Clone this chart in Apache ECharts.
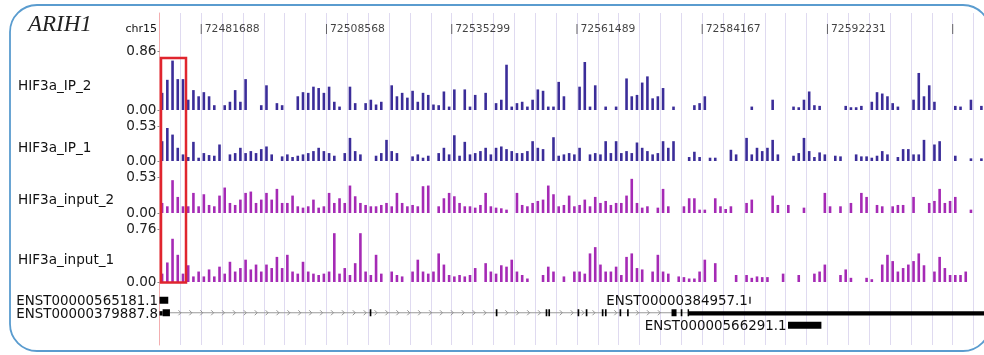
<!DOCTYPE html>
<html><head><meta charset="utf-8">
<script src="https://cdn.jsdelivr.net/npm/echarts@6/dist/echarts.min.js"></script>
<style>html,body{margin:0;padding:0;background:#fff}#c{width:984px;height:355px}</style>
</head><body><div id="c"></div>
<script>
// ---------------- data ----------------
const geneTitle = 'ARIH1';
const chromName = 'chr15';
const rulerTickPos = [2, 8, 14, 20, 26, 32, 38];
const rulerTickLabels = ['72481688', '72508568', '72535299', '72561489', '72584167', '72592231', ''];

const trackNames = ['HIF3a_IP_2', 'HIF3a_IP_1', 'HIF3a_input_2', 'HIF3a_input_1'];
const trackMax = [0.86, 0.53, 0.53, 0.76];

const ip2 = [
0.25,0.44,0.72,0.45,0.45,0.15,0.29,0.2,0.26,0.2,
0.07,0,0.07,0.12,0.29,0.12,0.45,0,0,0.07,
0.36,0,0.1,0.07,0,0,0.2,0.26,0.25,0.34,
0.32,0.25,0.34,0.12,0.05,0,0.34,0.1,0,0.1,
0.15,0.08,0.12,0,0.36,0.2,0.25,0.18,0.28,0.12,
0.25,0.22,0.08,0.07,0.27,0.05,0.3,0,0.3,0.05,
0.22,0,0.25,0,0.1,0.15,0.66,0.05,0.1,0.12,
0.05,0.15,0.3,0.28,0.05,0.05,0.41,0.2,0,0,
0.34,0.7,0.05,0.36,0,0.05,0,0.05,0,0.46,
0.2,0.22,0.4,0.49,0.17,0.2,0.32,0,0.05,0,
0,0,0.07,0.1,0.2,0,0,0,0,0,
0,0,0,0.05,0,0,0,0.15,0,0,
0,0.05,0.04,0.15,0.27,0.07,0.06,0,0,0,
0,0.06,0.04,0.04,0.06,0,0.12,0.26,0.24,0.2,
0.1,0.05,0,0,0.15,0.54,0.2,0.36,0.12,0,
0,0,0.06,0.05,0,0.15,0,0.06];

const ip1 = [
0.3,0.5,0.4,0.2,0.1,0.06,0.29,0.05,0.12,0.09,
0.08,0.25,0,0.1,0.12,0.2,0.12,0.15,0.12,0.18,
0.22,0.1,0,0.07,0.1,0.06,0.08,0.1,0.12,0.15,
0.2,0.15,0.12,0.08,0,0.12,0.35,0.15,0.1,0,
0,0.08,0.12,0.32,0.15,0.12,0,0,0.07,0.1,
0.05,0.08,0,0.12,0.2,0.1,0.39,0.08,0.29,0.1,
0.12,0.15,0.2,0.1,0.2,0.22,0.18,0.15,0.12,0.12,
0.15,0.3,0.2,0.18,0,0.36,0.08,0.1,0.12,0.1,
0.2,0,0.1,0.12,0.1,0.3,0.12,0.3,0.12,0.15,
0.12,0.28,0.2,0.15,0.1,0.12,0.3,0.2,0.3,0,
0,0.06,0.14,0.06,0,0.05,0.05,0,0,0.17,
0.1,0,0.35,0.1,0.2,0.15,0.2,0.32,0.1,0,
0,0.08,0.12,0.35,0.15,0.06,0.13,0.1,0,0.08,
0.07,0,0,0.1,0.07,0.07,0.05,0.08,0.15,0.1,
0,0.06,0.18,0.18,0.1,0.1,0.32,0,0.25,0.3,
0,0,0.08,0,0,0.04,0,0.04];

const input2 = [
0.15,0.1,0.49,0.24,0.1,0.1,0.3,0.1,0.28,0.12,
0.1,0.26,0.38,0.15,0.12,0.2,0.3,0.32,0.15,0.2,
0.3,0.2,0.36,0.15,0.15,0.26,0.1,0.08,0.1,0.2,
0.08,0.1,0.3,0.15,0.22,0.15,0.41,0.25,0.15,0.12,
0.1,0.1,0.12,0.15,0.1,0.3,0.15,0.1,0.12,0.1,
0.4,0.41,0,0.1,0.22,0.3,0.25,0.15,0.1,0.1,
0.08,0.12,0.3,0.1,0.08,0.07,0.05,0,0.3,0.12,
0.1,0.15,0.18,0.2,0.41,0.28,0.1,0.12,0.26,0.1,
0.12,0.2,0.1,0.24,0.15,0.18,0.12,0.15,0.15,0.26,
0.51,0.15,0.08,0.1,0,0.08,0.36,0.1,0,0,
0.1,0.22,0.22,0.05,0.05,0,0.22,0.1,0.06,0.1,
0,0,0.15,0.2,0,0,0,0.26,0.12,0,
0.12,0,0,0.08,0,0,0,0.3,0.1,0,
0.1,0,0.15,0,0.3,0.24,0,0.12,0.1,0,
0.1,0.12,0.12,0,0.24,0,0,0.15,0.18,0.36,
0.15,0.18,0.24,0,0,0.05,0,0];

const input1 = [
0.12,0.28,0.62,0.39,0.12,0.24,0.08,0.15,0.08,0.18,
0.08,0.22,0.12,0.29,0.15,0.2,0.32,0.18,0.25,0.15,
0.25,0.2,0.36,0.2,0.39,0.15,0.12,0.29,0.15,0.12,
0.1,0.12,0.15,0.7,0.12,0.2,0.1,0.27,0.7,0.15,
0.1,0.39,0.12,0,0.15,0.1,0.08,0,0.15,0.32,
0.15,0.12,0.15,0.41,0.25,0.1,0.08,0.1,0.08,0.1,
0.2,0,0.27,0.15,0.12,0.24,0.22,0.32,0.15,0.1,
0.05,0,0,0.1,0.22,0.15,0,0.08,0,0.15,
0.15,0.12,0.41,0.5,0.25,0.15,0.15,0.22,0.1,0.36,
0.41,0.2,0.18,0,0.15,0.39,0.15,0.12,0,0.08,
0.07,0.05,0.05,0.15,0.32,0,0.27,0,0,0,
0.1,0,0.1,0.06,0.08,0.07,0.07,0,0,0.12,
0,0,0.1,0,0,0.12,0.15,0.25,0,0,
0.1,0.18,0.06,0,0,0.06,0.04,0,0.25,0.39,
0.3,0.15,0.2,0.25,0.3,0.41,0.24,0,0.15,0.36,
0.2,0.1,0.1,0.1,0.15,0,0,0];

const geneNames = ['ENST00000565181.1', 'ENST00000379887.8', 'ENST00000384957.1', 'ENST00000566291.1'];
const geneRows = [0, 1, 0, 2];
const geneIntrons = [null, [0.5, 25.33], null, null];
const geneExons = [
  [[0, 0.42]],
  [[0.15, 0.5], [10.07, 10.15], [16.11, 16.19], [18.5, 18.58], [18.63, 18.71], [20.03, 20.11],
   [20.42, 20.5], [21.19, 21.27], [21.34, 21.42], [22.04, 22.12], [22.4, 22.48],
   [24.53, 24.77], [24.97, 25.05], [25.3, 25.37]],
  [[28.26, 28.31]],
  [[30.11, 31.71]]
];
const geneUTRs = [[], [[0, 0.15], [25.33, 39.6]], [], []];

// ---------------- layout / style ----------------
const VIEW_UNITS = 39.5;
const BINS_PER_UNIT = 4;
const CHEVRON_STEP = 0.522;
const PLOT_LEFT = 159.5, PLOT_WIDTH = 824.8;
const FONT = '"DejaVu Sans", sans-serif';
const trackTops = [51, 126, 177.5, 229];
const trackHeights = [59, 35, 35.5, 53];
const trackLabelY = [86.5, 148, 200, 260];
const trackColors = ['#3b2d99', '#3b2d99', '#a52ab5', '#a52ab5'];
const trackData = [ip2, ip1, input2, input1];

const chart = echarts.init(document.getElementById('c'));

const grids = [
  { left: PLOT_LEFT, width: PLOT_WIDTH, top: 13, height: 332 },   // background grid lines
  { left: PLOT_LEFT, width: PLOT_WIDTH, top: 23, height: 12 }     // ruler
];
trackTops.forEach((t, i) => grids.push({ left: PLOT_LEFT, width: PLOT_WIDTH, top: t, height: trackHeights[i] }));
grids.push({ left: PLOT_LEFT, width: PLOT_WIDTH, top: 294, height: 37.5 }); // genes

const xAxes = grids.map((g, i) => ({
  type: 'value', gridIndex: i, min: 0, max: VIEW_UNITS,
  interval: 1,
  axisLine: { show: false }, axisTick: { show: false }, axisLabel: { show: false },
  splitLine: { show: i === 0, lineStyle: { color: '#dfdaf0', width: 1 } }
}));

const yAxes = [
  { type: 'value', gridIndex: 0, min: 0, max: 1,
    axisLine: { show: true, onZero: false, lineStyle: { color: '#f3aeb0', width: 1 } },
    axisTick: { show: false }, axisLabel: { show: false }, splitLine: { show: false } },
  { type: 'value', gridIndex: 1, min: 0, max: 1, show: false }
];
trackMax.forEach((m, i) => yAxes.push({
  type: 'value', gridIndex: 2 + i, min: 0, max: m, interval: m,
  axisLine: { show: false },
  axisTick: { show: true, length: 2, lineStyle: { color: '#888' } },
  axisLabel: { show: true, margin: 3, fontSize: 13.6, fontFamily: FONT, color: '#222',
               formatter: v => v.toFixed(2) },
  splitLine: { show: false }
}));
yAxes.push({ type: 'value', gridIndex: 6, min: 0, max: 3, inverse: true, show: false });

const series = [];
series.push({
  type: 'scatter', xAxisIndex: 1, yAxisIndex: 1, silent: true,
  symbol: 'rect', symbolSize: [1, 10],
  itemStyle: { color: '#444' },
  data: rulerTickPos.map((p, i) => ({ value: [p, 0.5], name: rulerTickLabels[i] })),
  label: { show: true, position: 'right', distance: 3, formatter: p => p.name,
           fontSize: 10.8, fontFamily: FONT, color: '#111' }
});
trackData.forEach((arr, k) => {
  series.push({
    type: 'bar', xAxisIndex: 2 + k, yAxisIndex: 2 + k, silent: true,
    barWidth: 2.6,
    itemStyle: { color: trackColors[k] },
    data: arr.map((v, i) => [(i + 0.5) / BINS_PER_UNIT, v])
  });
});

function insideExon(k, u) {
  return geneExons[k].some(e => u > e[0] - 0.12 && u < e[1] + 0.12);
}
series.push({
  type: 'custom', xAxisIndex: 6, yAxisIndex: 6, silent: true, clip: false,
  data: geneNames.map((n, i) => [i, geneRows[i]]),
  renderItem: function (params, api) {
    const k = api.value(0);
    const row = geneRows[k];
    const yc = api.coord([0, row + 0.5])[1];
    const px = u => api.coord([u, row + 0.5])[0];
    const ch = [];
    if (geneIntrons[k]) {
      const a = geneIntrons[k][0], b = geneIntrons[k][1];
      ch.push({ type: 'line', shape: { x1: px(a), y1: yc, x2: px(b), y2: yc },
                style: { stroke: '#9a9a9a', lineWidth: 1 } });
      for (let u = a + 0.48; u < b - 0.15; u += CHEVRON_STEP) {
        if (insideExon(k, u)) continue;
        const x = px(u);
        ch.push({ type: 'polyline',
                  shape: { points: [[x - 1.5, yc - 2.5], [x + 1, yc], [x - 1.5, yc + 2.5]] },
                  style: { stroke: '#8a8a8a', fill: null, lineWidth: 0.9 } });
      }
    }
    geneUTRs[k].forEach(e => {
      ch.push({ type: 'rect', shape: { x: px(e[0]), y: yc - 1.6, width: px(e[1]) - px(e[0]), height: 4.4 },
                style: { fill: '#000' } });
    });
    geneExons[k].forEach(e => {
      ch.push({ type: 'rect', shape: { x: px(e[0]), y: yc - 3.5, width: Math.max(1.2, px(e[1]) - px(e[0])), height: 7 },
                style: { fill: '#000' } });
    });
    const starts = geneExons[k].map(e => e[0]).concat(geneUTRs[k].map(e => e[0]));
    const s = Math.min.apply(null, starts);
    ch.push({ type: 'text', x: px(s) - 1.5, y: yc + 1.5,
              style: { text: geneNames[k], textAlign: 'right', textVerticalAlign: 'middle',
                       font: '13.4px "DejaVu Sans", sans-serif', fill: '#111' } });
    return { type: 'group', children: ch };
  }
});

const graphic = [
  { type: 'rect', shape: { x: 10, y: 5, width: 980, height: 346, r: 27 }, z: 0,
    style: { fill: null, stroke: '#5a9ccf', lineWidth: 1.8 } },
  { type: 'text', x: 28, y: 25, z: 10,
    style: { text: geneTitle, font: 'italic 23px "Liberation Serif", serif', fill: '#222',
             textAlign: 'left', textVerticalAlign: 'middle' } },
  { type: 'text', x: 157, y: 29.5, z: 10,
    style: { text: chromName, font: '11px "DejaVu Sans", sans-serif', fill: '#111',
             textAlign: 'right', textVerticalAlign: 'middle' } },
  { type: 'rect', shape: { x: 161, y: 58, width: 25, height: 224.5 }, z: 100,
    style: { fill: null, stroke: '#e0252e', lineWidth: 2.5 } }
];
trackNames.forEach((n, i) => graphic.push({
  type: 'text', x: 18, y: trackLabelY[i], z: 10,
  style: { text: n, font: '13.6px "DejaVu Sans", sans-serif', fill: '#111',
           textAlign: 'left', textVerticalAlign: 'middle' }
}));

chart.setOption({
  animation: false,
  backgroundColor: '#fff',
  grid: grids,
  xAxis: xAxes,
  yAxis: yAxes,
  series: series,
  graphic: graphic
});
</script>
</body></html>
